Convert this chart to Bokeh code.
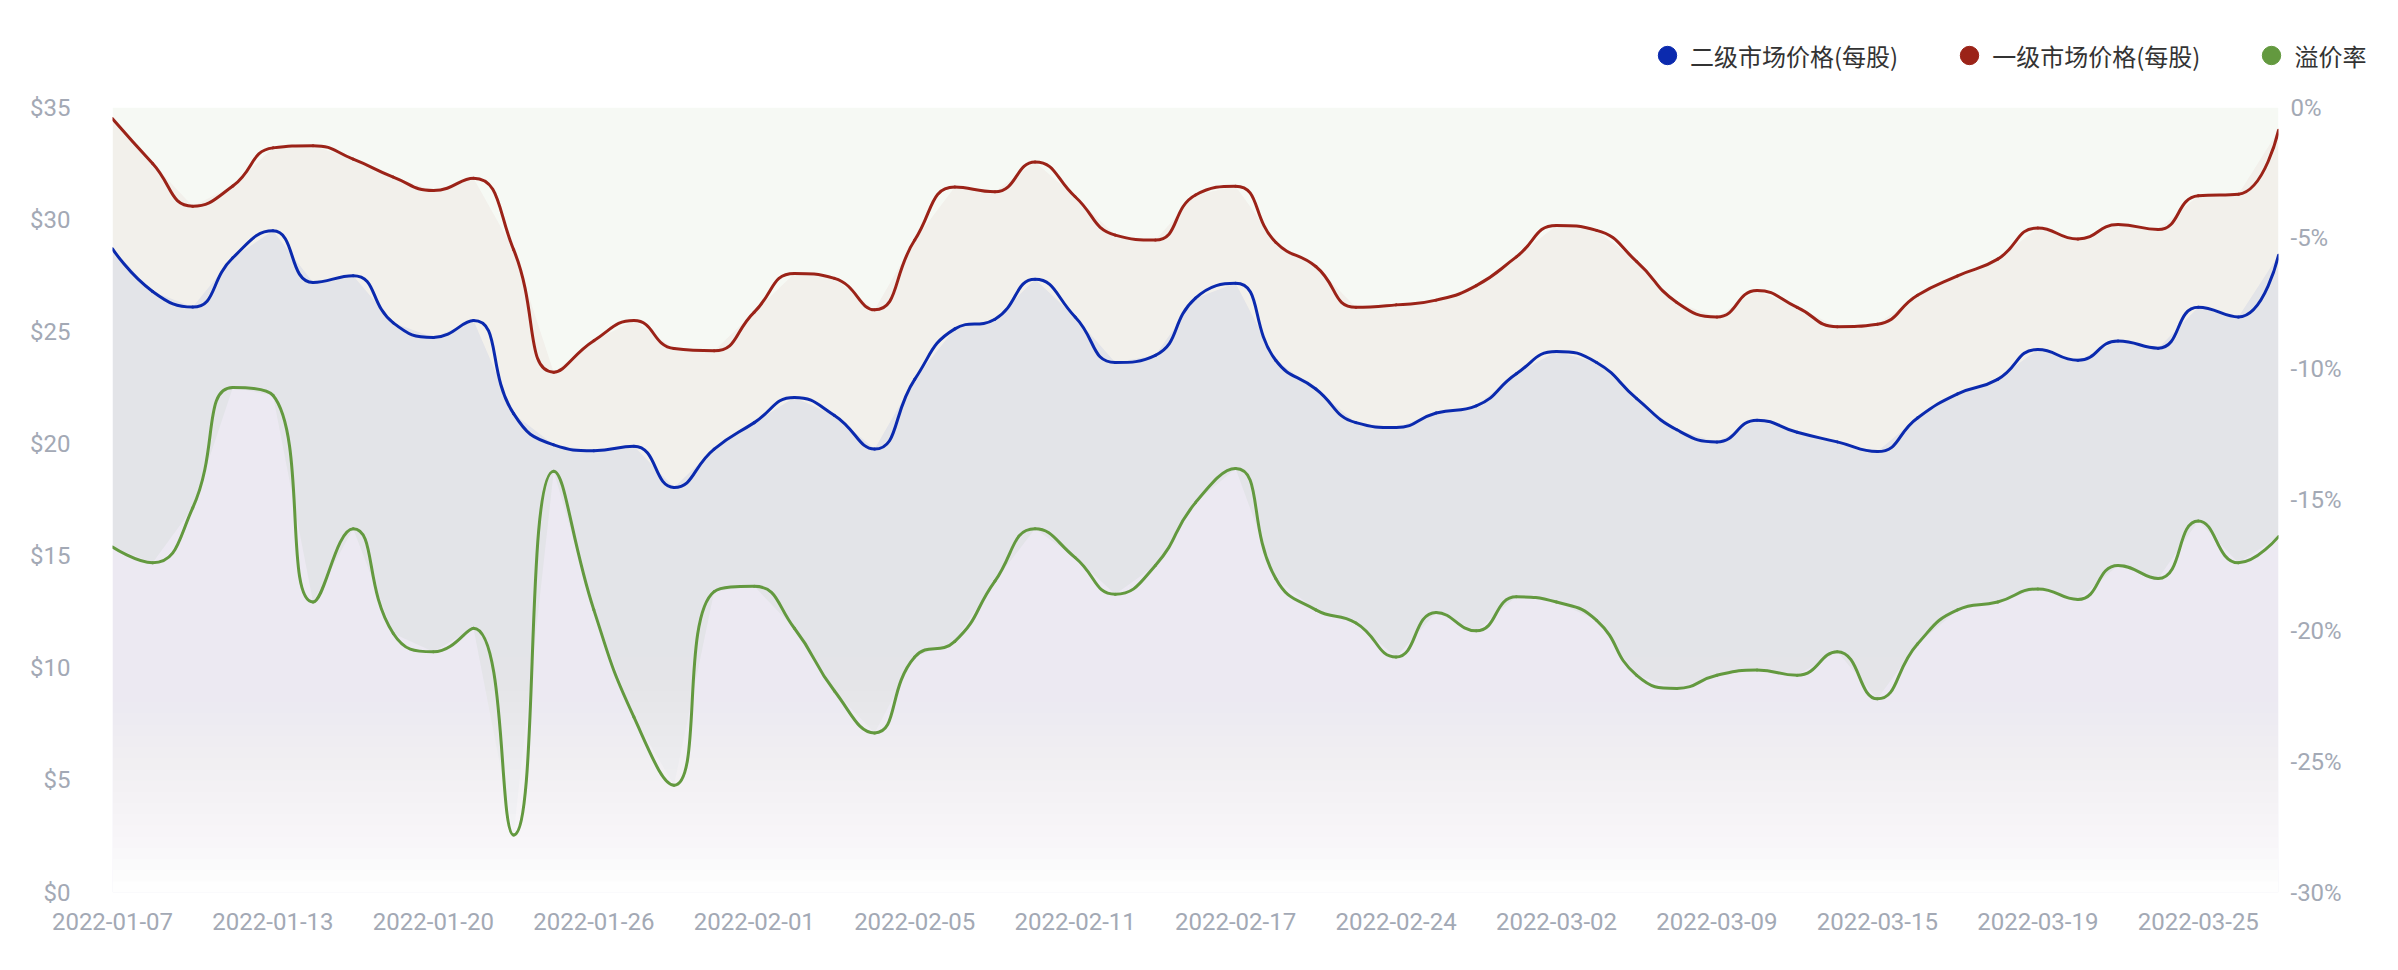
import math
from bokeh.plotting import figure
from bokeh.layouts import column
from bokeh.models import (Range1d, LinearAxis, FixedTicker, PrintfTickFormatter,
                          Legend, LegendItem, ColumnDataSource)
from bokeh.embed import file_html
from bokeh.resources import INLINE

# ---------------- data ----------------
tick_labels = ["2022-01-07", "2022-01-13", "2022-01-20", "2022-01-26", "2022-02-01",
               "2022-02-05", "2022-02-11", "2022-02-17", "2022-02-24", "2022-03-02",
               "2022-03-09", "2022-03-15", "2022-03-19", "2022-03-25"]
label_step = 4

secondary_price = [28.7, 26.8, 26.1, 28.3, 29.5, 27.2, 27.5, 25.4, 24.75, 25.5,
                   21.35, 19.96, 19.7, 19.9, 18.06, 19.77, 20.95, 22.07, 21.27, 19.77,
                   22.88, 25.13, 25.56, 27.34, 25.66, 23.63, 23.95, 26.5, 27.16, 23.73,
                   22.45, 20.95, 20.73, 21.38, 21.7, 23.13, 24.12, 23.63, 22.02, 20.63,
                   20.09, 21.06, 20.52, 20.09, 19.66, 21.16, 22.23, 22.88, 24.21, 23.73,
                   24.59, 24.27, 26.09, 25.66, 28.41]

primary_price = [34.5, 32.5, 30.6, 31.5, 33.2, 33.3, 32.7, 31.9, 31.3, 31.85,
                 28.66, 23.2, 24.6, 25.5, 24.25, 24.15, 25.88, 27.6, 27.38, 25.98,
                 29.09, 31.45, 31.24, 32.57, 31.02, 29.31, 29.09, 31.1, 31.49, 28.99,
                 27.91, 26.09, 26.2, 26.41, 27.06, 28.34, 29.74, 29.52, 28.13, 26.31,
                 25.66, 26.84, 26.09, 25.23, 25.34, 26.63, 27.49, 28.24, 29.63, 29.14,
                 29.78, 29.56, 31.06, 31.13, 33.98]

premium_rate = [-16.8, -17.4, -15.3, -10.7, -11.0, -18.9, -16.1, -20.1, -20.8, -19.9,
                -27.8, -13.9, -19.2, -23.3, -25.9, -18.5, -18.3, -19.9, -22.3, -23.9,
                -21.0, -20.4, -18.1, -16.1, -17.2, -18.6, -17.5, -15.1, -13.8, -18.0,
                -19.2, -19.7, -21.0, -19.3, -20.0, -18.7, -18.9, -19.6, -21.7, -22.2,
                -21.7, -21.5, -21.7, -20.8, -22.6, -20.5, -19.2, -18.9, -18.4, -18.8,
                -17.5, -18.0, -15.8, -17.4, -16.4]

left_ticks = [0, 5, 10, 15, 20, 25, 30, 35]
right_ticks = [-30, -25, -20, -15, -10, -5, 0]
series_names = ["二级市场价格(每股)", "一级市场价格(每股)", "溢价率"]

# ---------------- style ----------------
BLUE, RED, GREEN = "#0b2aae", "#9b2318", "#63993f"
BLUE_FILL = "#0a30c4"
LABEL_COLOR = "#a3a9b5"
W = 2382
LEG_H = 90
H = 864
BL, BR, BT, BB = 112, 104, 17, 62
FW, FH = W - BL - BR, H - BT - BB

n = len(secondary_price)
xs = list(range(n))
x_max = n - 1
ymin, ymax = left_ticks[0], left_ticks[-1]
rmin, rmax = right_ticks[0], right_ticks[-1]

p = figure(width=W, height=H, x_range=Range1d(0, x_max), y_range=Range1d(ymin, ymax),
           output_backend="svg", toolbar_location=None,
           min_border_left=BL, min_border_right=BR, min_border_top=BT, min_border_bottom=BB,
           background_fill_color="white", border_fill_color="white")
p.frame_align = False
p.outline_line_color = None
p.grid.visible = False
p.extra_y_ranges = {"pct": Range1d(rmin, rmax)}

# ---------------- area fills ----------------
zeros = [0] * n
p.varea(x=xs, y1=premium_rate, y2=zeros, y_range_name="pct", fill_color=GREEN, fill_alpha=0.06)
p.varea(x=xs, y1=zeros, y2=primary_price, fill_color=RED, fill_alpha=0.04)
p.varea(x=xs, y1=zeros, y2=secondary_price, fill_color=BLUE_FILL, fill_alpha=0.062)

# vertical fade to white (gradient emulation): nested quads from the bottom
K = 70
tops, alphas = [], []
prev_keep = 1.0
for k in range(K):
    top = ymax - (ymax - ymin) * k / K
    t_mid = (k + 0.5) / K
    keep = 1.0 - t_mid ** 2.5
    a = 1.0 - keep / prev_keep
    prev_keep = keep
    tops.append(top)
    alphas.append(max(0.0, min(1.0, a)))
fade = ColumnDataSource(dict(top=tops, alpha=alphas))
p.quad(left=0, right=x_max, bottom=ymin, top="top", fill_alpha="alpha",
       fill_color="white", line_color=None, source=fade)


# ---------------- smooth lines (ECharts-like bezier control points) ----------------
def bezier_segments(vals, kx, ky, smooth=0.5):
    pts = [(i * kx, v * ky) for i, v in enumerate(vals)]
    m = len(pts)
    cx0, cy0 = pts[0]
    out = {k: [] for k in ("x0", "y0", "x1", "y1", "cx0", "cy0", "cx1", "cy1")}
    for idx in range(1, m):
        x, y = pts[idx]
        px, py = pts[idx - 1]
        if idx == m - 1:
            cx1, cy1 = x, y
            ncx, ncy = x, y
        else:
            nx, ny = pts[idx + 1]
            vx, vy = nx - px, ny - py
            lp = math.hypot(x - px, y - py)
            ln = math.hypot(nx - x, ny - y)
            r = ln / (ln + lp)
            ncx = x + vx * smooth * r
            ncy = y + vy * smooth * r
            ncx = max(min(ncx, max(nx, x)), min(nx, x))
            ncy = max(min(ncy, max(ny, y)), min(ny, y))
            vx, vy = ncx - x, ncy - y
            cx1 = x - vx * lp / ln
            cy1 = y - vy * lp / ln
            cx1 = max(min(cx1, max(px, x)), min(px, x))
            cy1 = max(min(cy1, max(py, y)), min(py, y))
            vx, vy = x - cx1, y - cy1
            ncx = x + vx * ln / lp
            ncy = y + vy * ln / lp
        out["x0"].append(px / kx); out["y0"].append(py / ky)
        out["x1"].append(x / kx); out["y1"].append(y / ky)
        out["cx0"].append(cx0 / kx); out["cy0"].append(cy0 / ky)
        out["cx1"].append(cx1 / kx); out["cy1"].append(cy1 / ky)
        cx0, cy0 = ncx, ncy
    return out


kx = FW / x_max
ky_left = FH / (ymax - ymin)
ky_right = FH / (rmax - rmin)

p.bezier(source=ColumnDataSource(bezier_segments(premium_rate, kx, ky_right)),
         x0="x0", y0="y0", x1="x1", y1="y1", cx0="cx0", cy0="cy0", cx1="cx1", cy1="cy1",
         y_range_name="pct", line_color=GREEN, line_width=3, line_cap="round")
p.bezier(source=ColumnDataSource(bezier_segments(primary_price, kx, ky_left)),
         x0="x0", y0="y0", x1="x1", y1="y1", cx0="cx0", cy0="cy0", cx1="cx1", cy1="cy1",
         line_color=RED, line_width=3, line_cap="round")
p.bezier(source=ColumnDataSource(bezier_segments(secondary_price, kx, ky_left)),
         x0="x0", y0="y0", x1="x1", y1="y1", cx0="cx0", cy0="cy0", cx1="cx1", cy1="cy1",
         line_color=BLUE, line_width=3, line_cap="round")

# ---------------- axes ----------------
def style_axis(ax, standoff):
    ax.axis_line_color = None
    ax.major_tick_line_color = None
    ax.minor_tick_line_color = None
    ax.major_tick_out = 0
    ax.major_tick_in = 0
    ax.major_label_standoff = standoff
    ax.major_label_text_font = "Roboto"
    ax.major_label_text_font_size = "24px"
    ax.major_label_text_color = LABEL_COLOR

p.xaxis.ticker = FixedTicker(ticks=[i * label_step for i in range(len(tick_labels))])
p.xaxis.major_label_overrides = {i * label_step: lab for i, lab in enumerate(tick_labels)}
style_axis(p.xaxis[0], 20)

p.yaxis.ticker = FixedTicker(ticks=left_ticks)
p.yaxis.formatter = PrintfTickFormatter(format="$%d")
style_axis(p.yaxis[0], 42)

rax = LinearAxis(y_range_name="pct", ticker=FixedTicker(ticks=right_ticks),
                 formatter=PrintfTickFormatter(format="%d%%"))
style_axis(rax, 12)
p.add_layout(rax, "right")

# ---------------- legend (own strip above the chart) ----------------
lg = figure(width=W, height=LEG_H, output_backend="svg", toolbar_location=None,
            min_border=0, x_axis_location=None, y_axis_location=None,
            background_fill_color="white", border_fill_color="white")
lg.frame_align = False
lg.outline_line_color = None
lg.grid.visible = False
items = []
for name, col, vals in zip(series_names, [BLUE, RED, GREEN],
                           [secondary_price, primary_price, premium_rate]):
    r = lg.scatter(x=xs, y=vals, marker="circle", color=col, size=18, visible=False)
    items.append(LegendItem(label=name, renderers=[r]))
legend = Legend(items=items, location=(1644, 10), orientation="horizontal",
                glyph_width=46, glyph_height=50, label_standoff=0, spacing=48,
                padding=0, margin=0, border_line_color=None, background_fill_alpha=0,
                label_text_font="Noto Sans CJK SC", label_text_font_size="24px",
                label_text_color="#333333", label_text_baseline="middle")
lg.add_layout(legend, "center")

layout = column(lg, p, spacing=0)
open("out.html", "w").write(file_html(layout, INLINE))
